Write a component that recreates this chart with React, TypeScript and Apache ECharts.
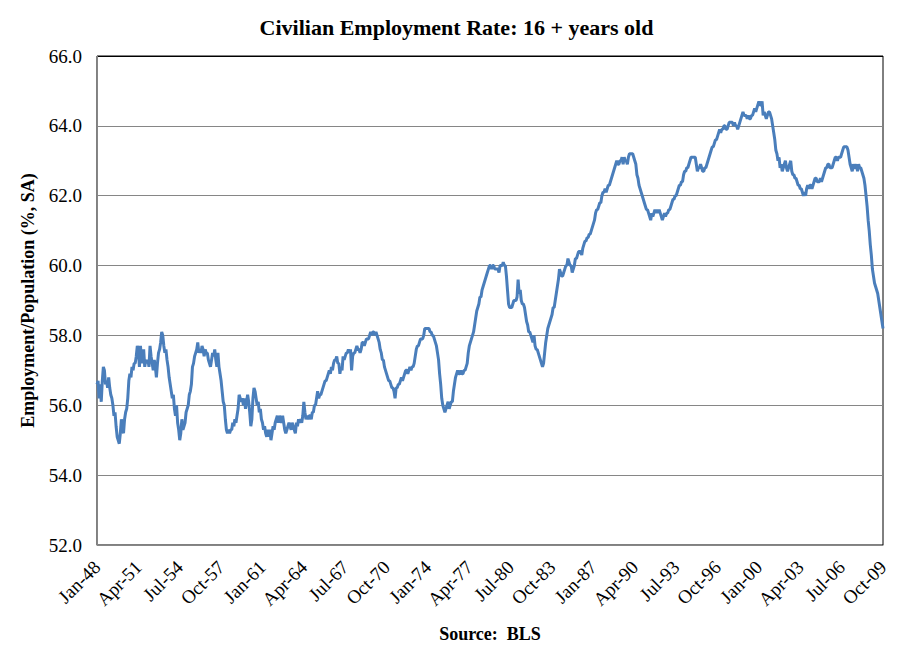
import React, { useEffect, useRef } from "react";
import * as echarts from "echarts";

const TITLE = "Civilian Employment Rate: 16 + years old";
const Y_NAME = "Employment/Population (%, SA)";
const SOURCE = "Source:  BLS";
const MONTHS = ["Jan", "Feb", "Mar", "Apr", "May", "Jun", "Jul", "Aug", "Sep", "Oct", "Nov", "Dec"];
const START_YEAR = 1948;

// Monthly employment/population ratio
const emp1948s = [
  56.6, 56.7, 56.2, 56.6, 56.1, 56.7, 57.1, 57.0, 56.6, 56.7, 56.5, 56.8,
  56.5, 56.3, 56.2, 56.0, 55.7, 55.8, 55.4, 55.1, 55.0, 54.9, 55.2, 55.6,
  55.3, 55.2, 55.6, 55.8, 55.9, 56.2, 56.7, 56.9, 56.8, 57.1, 57.0, 57.2,
  57.2, 57.4, 57.7, 57.6, 57.1, 57.7, 57.2, 57.4, 57.6, 57.1, 57.3, 57.2,
  57.3, 57.1, 57.7, 57.4, 57.2, 57.0, 57.3, 57.1, 56.8, 57.2, 57.5, 57.6,
  57.8, 58.1, 58.0, 57.7, 57.5, 57.6, 57.3, 57.1, 56.8, 56.6, 56.4, 56.2,
  56.3, 55.9, 55.7, 56.0, 55.5, 55.3, 55.0, 55.2, 55.6, 55.3, 55.4, 55.5,
  55.8, 55.9, 56.0, 56.3, 56.4, 56.6, 57.1, 57.2, 57.4, 57.5, 57.6, 57.8,
  57.5, 57.6, 57.5, 57.7, 57.6, 57.4, 57.6, 57.5, 57.5, 57.3, 57.2, 57.1,
  57.3, 57.5, 57.4, 57.6, 57.3, 57.1, 57.5, 57.1, 56.9, 56.7, 56.4, 56.1,
];
const emp1958s = [
  56.0, 55.6, 55.3, 55.2, 55.3, 55.2, 55.3, 55.3, 55.5, 55.4, 55.6, 55.5,
  55.7, 55.9, 56.3, 56.2, 56.1, 56.2, 56.0, 56.2, 55.9, 56.1, 56.3, 56.1,
  55.8, 55.4, 55.6, 56.2, 56.5, 56.4, 56.2, 56.0, 56.1, 55.8, 55.9, 55.6,
  55.5, 55.3, 55.4, 55.2, 55.1, 55.3, 55.1, 55.3, 55.0, 55.2, 55.4, 55.3,
  55.5, 55.6, 55.7, 55.5, 55.7, 55.6, 55.5, 55.7, 55.5, 55.3, 55.2, 55.3,
  55.4, 55.5, 55.4, 55.3, 55.5, 55.4, 55.3, 55.2, 55.5, 55.4, 55.6, 55.5,
  55.6, 55.5, 55.7, 56.1, 55.8, 55.6, 55.7, 55.6, 55.7, 55.7, 55.6, 55.8,
  55.8, 56.0, 56.0, 56.2, 56.4, 56.2, 56.3, 56.3, 56.4, 56.5, 56.6, 56.7,
  56.7, 56.8, 56.9, 57.0, 56.9, 57.1, 57.0, 57.2, 57.3, 57.3, 57.4, 57.2,
  57.2, 56.9, 57.1, 57.0, 57.4, 57.3, 57.4, 57.5, 57.5, 57.6, 57.5, 57.6,
];
const emp1968s = [
  57.0, 57.4, 57.5, 57.5, 57.6, 57.7, 57.6, 57.6, 57.5, 57.6, 57.8, 57.8,
  57.7, 57.8, 57.9, 57.9, 57.9, 58.0, 58.1, 58.0, 58.1, 58.1, 58.0, 58.1,
  58.0, 57.9, 57.8, 57.6, 57.5, 57.3, 57.3, 57.1, 57.0, 56.9, 56.8, 56.7,
  56.7, 56.6, 56.5, 56.5, 56.4, 56.2, 56.5, 56.5, 56.6, 56.6, 56.7, 56.8,
  56.7, 56.8, 56.9, 57.0, 57.0, 56.9, 57.0, 57.1, 57.0, 57.1, 57.1, 57.2,
  57.4, 57.6, 57.7, 57.7, 57.8, 57.9, 57.9, 57.9, 58.0, 58.2, 58.2, 58.2,
  58.2, 58.2, 58.1, 58.1, 58.0, 58.0, 57.9, 57.8, 57.7, 57.5, 57.3, 56.9,
  56.6, 56.2, 56.0, 55.9, 55.8, 55.9, 56.0, 56.1, 55.9, 56.0, 56.1, 56.1,
  56.4, 56.6, 56.8, 56.9, 57.0, 56.9, 56.9, 57.0, 56.9, 56.9, 57.0, 57.0,
  57.1, 57.2, 57.5, 57.7, 57.8, 57.9, 58.0, 58.1, 58.3, 58.5, 58.7, 58.8,
];
const emp1978s = [
  58.9, 59.1, 59.1, 59.3, 59.4, 59.5, 59.6, 59.7, 59.8, 59.9, 60.0, 60.0,
  59.9, 60.0, 60.0, 59.9, 59.9, 59.9, 59.9, 59.8, 60.0, 60.0, 60.0, 60.1,
  60.0, 60.0, 59.7, 59.3, 58.9, 58.8, 58.8, 58.8, 58.9, 59.0, 59.0, 59.0,
  59.1, 59.6, 59.2, 59.3, 59.0, 58.9, 58.9, 58.8, 58.6, 58.4, 58.3, 58.1,
  58.1, 58.0, 57.9, 57.8, 58.0, 57.7, 57.6, 57.6, 57.5, 57.4, 57.3, 57.2,
  57.1, 57.2, 57.5, 57.8, 58.0, 58.2, 58.3, 58.4, 58.5, 58.6, 58.8, 58.8,
  59.0, 59.2, 59.4, 59.6, 59.9, 59.8, 59.7, 59.7, 59.8, 59.9, 60.0, 60.0,
  60.2, 60.1, 60.0, 60.0, 59.8, 59.9, 60.0, 60.2, 60.2, 60.3, 60.4, 60.4,
  60.4, 60.3, 60.5, 60.6, 60.7, 60.7, 60.8, 60.8, 60.9, 60.9, 61.0, 61.1,
  61.2, 61.3, 61.5, 61.6, 61.6, 61.7, 61.8, 61.8, 62.0, 62.1, 62.1, 62.2,
];
const emp1988s = [
  62.1, 62.2, 62.3, 62.3, 62.4, 62.5, 62.6, 62.7, 62.8, 62.9, 63.0, 62.9,
  62.9, 63.0, 63.0, 63.1, 62.9, 63.1, 63.0, 63.0, 62.9, 63.1, 63.2, 63.2,
  63.2, 63.2, 63.1, 63.0, 62.9, 62.6, 62.5, 62.3, 62.2, 62.1, 62.0, 61.9,
  61.8, 61.7, 61.6, 61.6, 61.5, 61.4, 61.3, 61.5, 61.4, 61.5, 61.6, 61.5,
  61.6, 61.5, 61.6, 61.5, 61.4, 61.3, 61.4, 61.5, 61.4, 61.5, 61.5, 61.6,
  61.6, 61.7, 61.8, 61.9, 61.9, 62.0, 62.0, 62.1, 62.2, 62.3, 62.3, 62.4,
  62.4, 62.6, 62.7, 62.7, 62.8, 62.8, 62.9, 63.0, 63.1, 63.1, 63.1, 63.1,
  63.1, 62.9, 62.7, 62.8, 62.8, 62.9, 62.8, 62.7, 62.7, 62.8, 62.8, 62.9,
  63.0, 63.1, 63.2, 63.3, 63.4, 63.4, 63.5, 63.6, 63.6, 63.7, 63.8, 63.9,
  63.8, 63.9, 63.9, 64.0, 64.0, 63.9, 63.9, 64.0, 64.1, 64.1, 64.1, 64.1,
];
const emp1998s = [
  64.0, 64.1, 64.0, 64.0, 63.9, 64.0, 64.1, 64.2, 64.3, 64.4, 64.3, 64.3,
  64.3, 64.2, 64.3, 64.2, 64.2, 64.3, 64.3, 64.4, 64.5, 64.4, 64.5, 64.6,
  64.7, 64.6, 64.6, 64.7, 64.3, 64.4, 64.3, 64.2, 64.3, 64.4, 64.4, 64.3,
  64.2, 64.0, 63.8, 63.6, 63.3, 63.2, 63.0, 63.1, 62.8, 62.9, 62.7, 62.8,
  62.9, 63.0, 62.8, 62.7, 62.8, 62.9, 63.0, 62.7, 62.6, 62.6, 62.5, 62.5,
  62.4, 62.3, 62.3, 62.2, 62.2, 62.1, 62.0, 62.1, 62.0, 62.2, 62.3, 62.2,
  62.3, 62.3, 62.2, 62.3, 62.4, 62.5, 62.5, 62.4, 62.4, 62.4, 62.5, 62.4,
  62.5, 62.6, 62.7, 62.8, 62.8, 62.9, 62.9, 62.8, 62.8, 62.8, 62.9, 63.0,
  63.1, 63.1, 63.0, 63.1, 63.1, 63.1, 63.2, 63.3, 63.4, 63.4, 63.4, 63.4,
  63.3, 63.1, 62.9, 62.8, 62.7, 62.9, 62.8, 62.8, 62.9, 62.7, 62.9, 62.8,
];
const emp2008s = [
  62.8, 62.7, 62.6, 62.5, 62.3, 62.0, 61.7, 61.3, 61.0, 60.6, 60.3, 59.9,
  59.7, 59.5, 59.4, 59.3, 59.2, 59.0, 58.8, 58.6, 58.4, 58.2,
];

const values = [...emp1948s, ...emp1958s, ...emp1968s, ...emp1978s, ...emp1988s, ...emp1998s, ...emp2008s];
const categories = values.map((_, i) => {
  const y = START_YEAR + Math.floor(i / 12);
  return MONTHS[i % 12] + "-" + String(y % 100).padStart(2, "0");
});

const SERIF = '"Liberation Serif", "Times New Roman", serif';

export default function App() {
  const ref = useRef<HTMLDivElement>(null);
  useEffect(() => {
    document.body.style.margin = "0";
    const chart = echarts.init(ref.current!, null, { renderer: "svg" });
    chart.setOption({
      animation: false,
      backgroundColor: "#ffffff",
      title: {
        text: TITLE,
        left: "center",
        top: 11,
        textStyle: { fontFamily: SERIF, fontWeight: "bold", fontSize: 22, color: "#000" },
      },
      grid: { left: 97, right: 30, top: 56, bottom: 118, show: true, borderColor: "#000", borderWidth: 1 },
      xAxis: {
        type: "category",
        data: categories,
        boundaryGap: false,
        axisLine: { show: true, lineStyle: { color: "#868686", width: 1 } },
        axisTick: { show: false },
        splitLine: { show: false },
        axisLabel: {
          interval: 38,
          rotate: 45,
          margin: 19,
          fontFamily: SERIF,
          fontSize: 19,
          color: "#000",
        },
      },
      yAxis: {
        type: "value",
        min: 52,
        max: 66,
        interval: 2,
        name: Y_NAME,
        nameLocation: "middle",
        nameGap: 60,
        nameTextStyle: { fontFamily: SERIF, fontWeight: "bold", fontSize: 18, color: "#000" },
        axisLine: { show: true, lineStyle: { color: "#868686", width: 1 } },
        axisTick: { show: false },
        axisLabel: {
          margin: 15,
          fontFamily: SERIF,
          fontSize: 19,
          color: "#000",
          formatter: (v: number) => v.toFixed(1),
        },
        splitLine: {
          show: true,
          lineStyle: {
            color: ["#868686", "#868686", "#868686", "#868686", "#868686", "#868686", "#868686", "#000"],
            width: 1,
          },
        },
      },
      graphic: [
        {
          type: "text",
          x: 490,
          y: 634,
          style: {
            text: SOURCE,
            textAlign: "center",
            textVerticalAlign: "middle",
            font: 'bold 18px "Liberation Serif", "Times New Roman", serif',
            fill: "#000",
          },
        },
      ],
      series: [
        {
          type: "line",
          data: values,
          showSymbol: false,
          symbol: "none",
          lineStyle: { color: "#4A7EBB", width: 3 },
          itemStyle: { color: "#4A7EBB" },
        },
      ],
    });
    return () => chart.dispose();
  }, []);
  return <div ref={ref} style={{ width: 913, height: 663 }} />;
}
